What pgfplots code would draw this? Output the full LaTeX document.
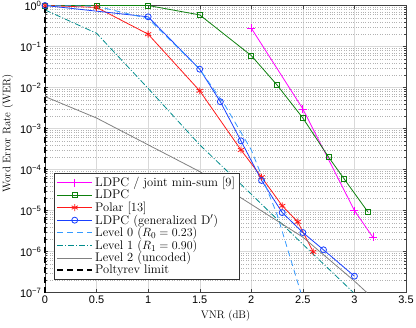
\documentclass[border=0pt]{standalone}
\usepackage{fontspec}
\setsansfont{Liberation Sans}
\usepackage{pgfplots}
\pgfplotsset{compat=1.18}
\definecolor{cMag}{rgb}{1,0,1}
\definecolor{cGreen}{rgb}{0.05,0.5,0.05}
\definecolor{cRed}{rgb}{1,0.1,0.1}
\definecolor{cBlue}{rgb}{0.1,0.25,1}
\definecolor{cLBlue}{rgb}{0.2,0.6,1}
\definecolor{cTeal}{rgb}{0,0.55,0.55}
\definecolor{cGray}{rgb}{0.5,0.5,0.5}
\newcommand{\tsup}[1]{\textsuperscript{#1}}
\begin{document}
\begin{tikzpicture}
\begin{axis}[
  scale only axis,
  width=361bp, height=287bp,
  ymode=log,
  xmin=0, xmax=3.5, ymin=1e-7, ymax=1,
  xtick={0,0.5,1,1.5,2,2.5,3,3.5},
  xticklabels={0,0.5,1,1.5,2,2.5,3,3.5},
  ytick={1e-7,1e-6,1e-5,1e-4,1e-3,1e-2,1e-1,1},
  yticklabels={10\tsup{−7},10\tsup{−6},10\tsup{−5},10\tsup{−4},10\tsup{−3},10\tsup{−2},10\tsup{−1},10\tsup{0}},
  ticklabel style={font=\fontsize{11}{12}\sffamily},
  grid=both,
  major grid style={black!15},
  minor grid style={black!30, dotted},
  axis line style={black!75},
  tick style={black!75},
  tick align=inside,
  major tick length=3.5bp,
  minor tick length=2bp,
  clip=false,
  xlabel={VNR (dB)},
  ylabel={Word Error Rate (WER)},
  label style={font=\fontsize{11}{13}\selectfont},
  ylabel style={at={(ticklabel cs:0.554)}},
  legend style={at={(0.025,0.045)}, anchor=south west, draw=black!80, fill=white,
    font=\fontsize{12.5}{13}\selectfont, row sep=-2.2pt, inner sep=2pt},
  legend cell align=left,
  legend image code/.code={\draw[mark repeat=2,mark phase=2,#1] plot coordinates {(0bp,0bp) (17.5bp,0bp) (35bp,0bp)};},
]
\coordinate (SW) at (rel axis cs:0,0);
\coordinate (NE) at (rel axis cs:1,1);
\addplot[color=cMag, line width=0.8pt, mark=+, mark size=4bp] coordinates {
(2,0.28) (2.5,0.003) (3,1e-5) (3.18,2.2e-6)};
\addlegendentry{LDPC / joint min-sum [9]}
\addplot[color=cGreen, line width=0.8pt, mark=square, mark size=2.5bp] coordinates {
(0,1) (0.5,1) (1,1) (1.5,0.59) (2,0.06) (2.25,0.0115) (2.5,0.0018) (2.75,2e-4) (2.9,5.9e-5) (3.13,9.3e-6)};
\addlegendentry{LDPC}
\addplot[color=cRed, line width=0.8pt, mark=asterisk, mark size=3.5bp] coordinates {
(0,1) (0.5,0.9) (1,0.2) (1.5,0.0083) (1.9,3e-4) (2.1,6.5e-5) (2.3,1.3e-5) (2.45,5.3e-6) (2.6,9.8e-7)};
\addlegendentry{Polar [13]}
\addplot[color=cBlue, line width=0.8pt, mark=o, mark size=3bp] coordinates {
(0,1) (1,0.53) (1.5,0.028) (1.7,0.0045) (1.9,5e-4) (2.1,5.4e-5) (2.3,8.9e-6) (2.5,2.9e-6) (2.7,1.1e-6) (3.0,2.5e-7)};
\addlegendentry{LDPC (generalized D$'$)}
\addplot[color=cLBlue, line width=0.8pt, dash pattern=on 6bp off 4bp] coordinates {
(0,1) (0.5,0.96) (1,0.48) (1.5,0.028) (1.75,3.5e-3) (2,3e-4) (2.25,8e-6) (2.48,1e-7)};
\addlegendentry{Level 0 ($R_0 = 0.23$)}
\addplot[color=cTeal, line width=0.8pt, dash pattern=on 6bp off 2bp on 1bp off 2bp] coordinates {
(0,0.78) (0.5,0.21) (1,0.0095) (1.5,4e-4) (2,2.5e-5) (2.5,1.5e-6) (2.99,1e-7)};
\addlegendentry{Level 1 ($R_1 = 0.90$)}
\addplot[color=cGray, line width=0.8pt] coordinates {
(0,0.006) (0.5,0.0018) (1,4e-4) (1.5,8.9e-5) (2,1.41e-5) (2.5,2.24e-6) (3,1.9e-7) (3.12,1e-7)};
\addlegendentry{Level 2 (uncoded)}
\addplot[color=black, line width=2pt, dash pattern=on 6bp off 4bp] coordinates {(0,1e-7) (0,1)};
\addlegendentry{Poltyrev limit}
\end{axis}
\pgfresetboundingbox
\path[use as bounding box] ([shift={(-45bp,-35bp)}]SW) rectangle ([shift={(10bp,5.5bp)}]NE);
\end{tikzpicture}
\end{document}
